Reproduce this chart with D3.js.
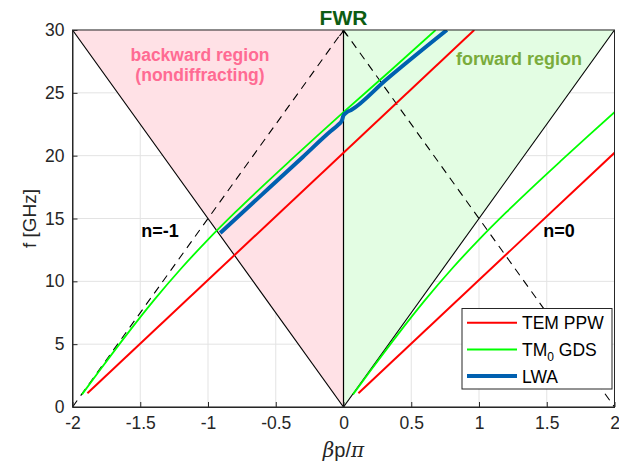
<!DOCTYPE html>
<html>
<head>
<meta charset="utf-8">
<script src="https://cdn.jsdelivr.net/npm/d3@7"></script>
<style>
  body { margin: 0; background: #fff; }
  text { font-family: "Liberation Sans", Arial, Helvetica, sans-serif; }
</style>
</head>
<body>
<svg id="chart" width="619" height="468"></svg>
<script>
// tick values / labels
var xTicks = [-2, -1.5, -1, -0.5, 0, 0.5, 1, 1.5, 2];
var yTicks = [0, 5, 10, 15, 20, 25, 30];

// shaded regions (betap/pi, f GHz)
var backwardRegion = [[-2, 30], [0, 30], [0, 0]];
var forwardRegion = [[0, 0], [0, 30], [2, 30]];

// light lines
var solidLines = [[[-2, 30], [0, 0]], [[0, 0], [2, 30]]];
var dashedLines = [[[-2, 0], [0, 30]], [[0, 30], [2, 0]]];
var fwrLine = [[0, 0], [0, 30]];

// TEM PPW, n=-1 and n=0 branches
var temN1 = [[-1.89, 1.1], [0.965, 30.0]];
var temN0 = [[0.11, 1.1], [2.0, 20.23]];

// TM0 GDS, n=-1 branch
var gdsN1 = [[-1.93, 1.0], [-1.8, 2.9], [-1.6, 5.76], [-1.4, 8.48], [-1.2, 11.0], [-1.0, 13.32],
             [-0.8, 15.48], [-0.6, 17.54], [-0.4, 19.54], [-0.2, 21.51], [0, 23.46], [0.35, 26.8], [0.68, 30.0]];
// TM0 GDS, n=0 branch
var gdsN0 = [[0.07, 1.0], [0.2, 2.9], [0.4, 5.76], [0.6, 8.48], [0.8, 11.0], [1.0, 13.32],
             [1.2, 15.48], [1.4, 17.54], [1.6, 19.54], [1.8, 21.51], [2.0, 23.46]];

// LWA
var lwa = [[-0.91, 13.85], [-0.6, 16.92], [-0.3, 19.9], [-0.1, 21.9], [-0.04, 22.45],
           [-0.012, 22.8], [0, 23.2], [0.02, 23.42], [0.06, 23.65], [0.31, 26.0], [0.763, 30.0]];

var legendItems = [
  {label: "TEM PPW", color: "#ff0000", width: 2},
  {label: "TM", sub: "0", rest: " GDS", color: "#00ff00", width: 2},
  {label: "LWA", color: "#0060b0", width: 4}
];

var svg = d3.select("#chart");
var pLeft = 72.5, pRight = 614.5, pTop = 30, pBottom = 407;

var x = d3.scaleLinear().domain([-2, 2]).range([pLeft, pRight]);
var y = d3.scaleLinear().domain([0, 30]).range([pBottom, pTop]);

svg.append("defs").append("clipPath").attr("id", "clip")
  .append("rect").attr("x", pLeft).attr("y", pTop)
  .attr("width", pRight - pLeft).attr("height", pBottom - pTop);

// grid
var grid = svg.append("g");
grid.selectAll(".gx").data(xTicks).enter().append("line")
  .attr("x1", d => x(d)).attr("x2", d => x(d))
  .attr("y1", pTop).attr("y2", pBottom)
  .attr("stroke", "#e3e3e3").attr("stroke-width", 1);
grid.selectAll(".gy").data(yTicks).enter().append("line")
  .attr("x1", pLeft).attr("x2", pRight)
  .attr("y1", d => y(d)).attr("y2", d => y(d))
  .attr("stroke", "#e3e3e3").attr("stroke-width", 1);

var line = d3.line().x(d => x(d[0])).y(d => y(d[1]));
var curve = d3.line().x(d => x(d[0])).y(d => y(d[1])).curve(d3.curveMonotoneX);

var plot = svg.append("g").attr("clip-path", "url(#clip)");

plot.append("path").attr("d", line(backwardRegion) + "Z").attr("fill", "#ffe1e6");
plot.append("path").attr("d", line(forwardRegion) + "Z").attr("fill", "#e3fde3");

solidLines.forEach(function (l) {
  plot.append("path").attr("d", line(l)).attr("fill", "none")
    .attr("stroke", "#000").attr("stroke-width", 1.1);
});
dashedLines.forEach(function (l) {
  plot.append("path").attr("d", line(l)).attr("fill", "none")
    .attr("stroke", "#000").attr("stroke-width", 1.1)
    .attr("stroke-dasharray", "8,6");
});
plot.append("path").attr("d", line(fwrLine)).attr("fill", "none")
  .attr("stroke", "#000").attr("stroke-width", 1.2);

[temN1, temN0].forEach(function (s) {
  plot.append("path").attr("d", line(s)).attr("fill", "none")
    .attr("stroke", "#ff0000").attr("stroke-width", 2);
});
[gdsN1, gdsN0].forEach(function (s) {
  plot.append("path").attr("d", curve(s)).attr("fill", "none")
    .attr("stroke", "#00ff00").attr("stroke-width", 1.8);
});
plot.append("path").attr("d", curve(lwa)).attr("fill", "none")
  .attr("stroke", "#0060b0").attr("stroke-width", 4).attr("stroke-linejoin", "round");

// FWR arrow head
svg.append("path")
  .attr("d", "M" + (x(0) - 4) + "," + (y(30) + 6) + "L" + x(0) + "," + (y(30) + 1) + "L" + (x(0) + 4) + "," + (y(30) + 6))
  .attr("fill", "none").attr("stroke", "#000").attr("stroke-width", 1.2);

// axes box + ticks
var axisColor = "#262626";
svg.append("rect").attr("x", pLeft).attr("y", pTop)
  .attr("width", pRight - pLeft).attr("height", pBottom - pTop)
  .attr("fill", "none").attr("stroke", axisColor).attr("stroke-width", 1);

var ax = svg.append("g").attr("transform", "translate(0," + pBottom + ")")
  .call(d3.axisBottom(x).tickValues(xTicks).tickSizeInner(-5).tickSizeOuter(0).tickPadding(10)
    .tickFormat(d3.format("")));
var ay = svg.append("g").attr("transform", "translate(" + pLeft + ",0)")
  .call(d3.axisLeft(y).tickValues(yTicks).tickSizeInner(-5).tickSizeOuter(0).tickPadding(8));
[ax, ay].forEach(function (a) {
  a.select(".domain").attr("stroke", axisColor);
  a.selectAll(".tick line").attr("stroke", axisColor);
  a.selectAll(".tick text").attr("fill", "#262626").style("font-size", "17.5px")
    .style("font-family", "'Liberation Sans', Arial, sans-serif");
});
ax.selectAll(".tick text").text(d => String(d));

// axis labels
svg.append("text").attr("transform", "translate(36," + ((pTop + pBottom) / 2) + ") rotate(-90)")
  .attr("text-anchor", "middle").style("font-size", "19px").attr("fill", "#262626")
  .text("f [GHz]");
var xl = svg.append("text").attr("x", x(0)).attr("y", 457)
  .attr("text-anchor", "middle").style("font-size", "20px").attr("fill", "#262626");
xl.append("tspan").style("font-style", "italic").style("font-family", "'DejaVu Serif', serif").text("β");
xl.append("tspan").text("p/");
xl.append("tspan").style("font-style", "italic").style("font-family", "'DejaVu Serif', serif").text("π");

// annotations
svg.append("text").attr("x", x(0)).attr("y", 25).attr("text-anchor", "middle")
  .style("font-size", "21px").style("font-weight", "bold").attr("fill", "#0d5c12").text("FWR");
svg.append("text").attr("x", 200).attr("y", 61).attr("text-anchor", "middle")
  .style("font-size", "17.5px").style("font-weight", "bold").attr("fill", "#ff6b93").text("backward region");
svg.append("text").attr("x", 200).attr("y", 80.5).attr("text-anchor", "middle")
  .style("font-size", "17.5px").style("font-weight", "bold").attr("fill", "#ff6b93").text("(nondiffracting)");
svg.append("text").attr("x", 519).attr("y", 65).attr("text-anchor", "middle")
  .style("font-size", "18px").style("font-weight", "bold").attr("fill", "#7aac3c").text("forward region");
svg.append("text").attr("x", 160).attr("y", 237).attr("text-anchor", "middle")
  .style("font-size", "18px").style("font-weight", "bold").attr("fill", "#000").text("n=-1");
svg.append("text").attr("x", 559).attr("y", 237).attr("text-anchor", "middle")
  .style("font-size", "18px").style("font-weight", "bold").attr("fill", "#000").text("n=0");

// legend
var lg = svg.append("g").attr("transform", "translate(462,308.5)");
lg.append("rect").attr("width", 150).attr("height", 80.5)
  .attr("fill", "#fff").attr("stroke", "#262626").attr("stroke-width", 1);
legendItems.forEach(function (d, i) {
  var yy = 14.2 + i * 26.7;
  lg.append("line").attr("x1", 5).attr("x2", 55).attr("y1", yy).attr("y2", yy)
    .attr("stroke", d.color).attr("stroke-width", d.width);
  var t = lg.append("text").attr("x", 60).attr("y", yy + 6.5)
    .style("font-size", "17.5px").attr("fill", "#000").text(d.label);
  if (d.sub) {
    t.append("tspan").attr("dy", 5).style("font-size", "12px").text(d.sub);
    t.append("tspan").attr("dy", -5).text(d.rest);
  }
});
</script>
</body>
</html>
